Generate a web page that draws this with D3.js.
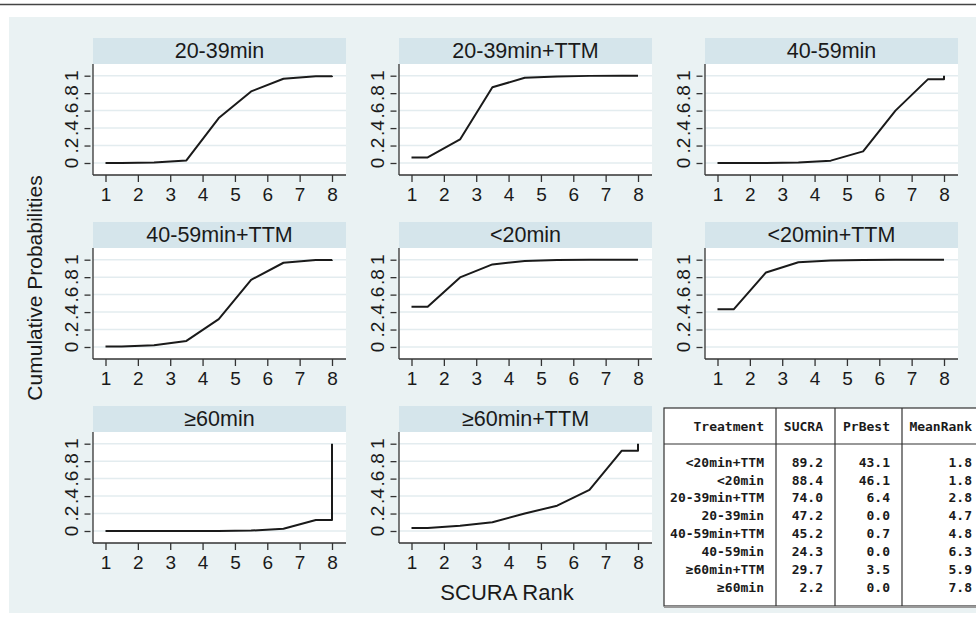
<!DOCTYPE html>
<html>
<head>
<meta charset="utf-8">
<script src="https://cdn.jsdelivr.net/npm/d3@7"></script>
<style>
  body { margin: 0; background: #fff; }
  text { font-family: "Liberation Sans", Arial, sans-serif; fill: #1a1a1a; }
  .mono { font-family: "DejaVu Sans Mono", monospace; font-weight: bold; font-size: 13px; }
</style>
</head>
<body>
<div id="chart-area"></div>
<script>
// Panels, in reading order
const panelNames = ["20-39min", "20-39min+TTM", "40-59min",
  "40-59min+TTM", "<20min", "<20min+TTM",
  "≥60min", "≥60min+TTM"]

// Cumulative probability of being within rank 1..8
const cum2039 = [0, 0.005, 0.03, 0.515, 0.82, 0.965, 0.995, 1]
const cum2039TTM = [0.064, 0.27, 0.867, 0.977, 0.99, 0.998, 1, 1]
const cum4059 = [0, 0.001, 0.005, 0.027, 0.133, 0.6, 0.958, 1]
const cum4059TTM = [0.007, 0.02, 0.07, 0.32, 0.77, 0.965, 0.997, 1]
const cumLt20 = [0.461, 0.797, 0.946, 0.985, 0.997, 1, 1, 1]
const cumLt20TTM = [0.431, 0.854, 0.97, 0.99, 0.997, 1, 1, 1]
const cumGe60 = [0, 0, 0, 0.001, 0.005, 0.025, 0.125, 1]
const cumGe60TTM = [0.035, 0.06, 0.1, 0.2, 0.29, 0.47, 0.92, 1]
const cumSeries = [cum2039, cum2039TTM, cum4059, cum4059TTM, cumLt20, cumLt20TTM, cumGe60, cumGe60TTM]

const rankTicks = [1, 2, 3, 4, 5, 6, 7, 8]
const probTicks = [0, 0.2, 0.4, 0.6, 0.8, 1]
const probTickLabels = ["0", ".2", ".4", ".6", ".8", "1"]

// Summary table
const tableHeader = ["Treatment", "SUCRA", "PrBest", "MeanRank"]
const tableTreatments = ["<20min+TTM", "<20min", "20-39min+TTM", "20-39min", "40-59min+TTM", "40-59min", "≥60min+TTM", "≥60min"]
const sucra = ["89.2", "88.4", "74.0", "47.2", "45.2", "24.3", "29.7", "2.2"]
const prBest = ["43.1", "46.1", "6.4", "0.0", "0.7", "0.0", "3.5", "0.0"]
const meanRank = ["1.8", "1.8", "2.8", "4.7", "4.8", "6.3", "5.9", "7.8"]

const W = 976, H = 625
const svg = d3.select("#chart-area").append("svg")
  .attr("width", W)
  .attr("height", H)

// frame
svg.append("line")
  .attr("x1", 0).attr("x2", W).attr("y1", 4.5).attr("y2", 4.5)
  .attr("stroke", "#444").attr("stroke-width", 1.5)
svg.append("rect")
  .attr("x", 9).attr("y", 17).attr("width", W - 9).attr("height", 596)
  .attr("fill", "#eaf2f3")

const PANEL_W = 253, HEAD_H = 26, PLOT_H = 111
const COL_STEP = 306, ROW_STEP = 184
const LEFT0 = 93, TOP0 = 38

panelNames.forEach((name, i) => {
  const col = i % 3, row = Math.floor(i / 3)
  const L = LEFT0 + col * COL_STEP
  const T = TOP0 + row * ROW_STEP
  const g = svg.append("g").attr("transform", `translate(${L}, ${T})`)

  const x = d3.scaleLinear().domain([1, 8]).range([12.5, 239])
  const y = d3.scaleLinear().domain([0, 1]).range([125, 37.7])

  // strip title
  g.append("rect")
    .attr("width", PANEL_W).attr("height", HEAD_H)
    .attr("fill", "#d5e5eb")
  g.append("text")
    .attr("x", PANEL_W / 2).attr("y", 20)
    .attr("text-anchor", "middle")
    .attr("font-size", "21.5px")
    .text(name)

  // plot region
  g.append("rect")
    .attr("y", HEAD_H).attr("width", PANEL_W).attr("height", PLOT_H)
    .attr("fill", "#fff")

  g.selectAll(".grid").data(probTicks).enter().append("line")
    .attr("class", "grid")
    .attr("x1", 0).attr("x2", PANEL_W)
    .attr("y1", d => y(d)).attr("y2", d => y(d))
    .attr("stroke", "#e3ecef").attr("stroke-width", 1.5)

  // axes lines
  g.append("line")
    .attr("x1", 0).attr("x2", 0).attr("y1", HEAD_H).attr("y2", HEAD_H + PLOT_H)
    .attr("stroke", "#333").attr("stroke-width", 1.3)
  g.append("line")
    .attr("x1", 0).attr("x2", PANEL_W).attr("y1", HEAD_H + PLOT_H).attr("y2", HEAD_H + PLOT_H)
    .attr("stroke", "#333").attr("stroke-width", 1.3)

  // x axis
  const xAxis = g.append("g")
    .attr("transform", `translate(0, ${HEAD_H + PLOT_H})`)
    .call(d3.axisBottom(x).tickValues(rankTicks).tickFormat(d3.format("d")).tickSize(7).tickPadding(6))
  xAxis.select(".domain").remove()
  xAxis.selectAll("line").attr("stroke", "#333").attr("stroke-width", 1.3)
  xAxis.selectAll("text")
    .attr("font-family", "Liberation Sans, Arial, sans-serif")
    .attr("font-size", "19px").attr("fill", "#1a1a1a")

  // y axis (rotated labels)
  const yAxis = g.append("g")
    .attr("transform", "translate(-2.5, 0)")
    .call(d3.axisLeft(y).tickValues(probTicks).tickSize(6).tickFormat(""))
  yAxis.select(".domain").remove()
  yAxis.selectAll("line").attr("stroke", "#333").attr("stroke-width", 1.3)
  g.selectAll(".ylab").data(probTicks).enter().append("text")
    .attr("class", "ylab")
    .attr("transform", (d, k) => `translate(-15.5, ${y(d)}) rotate(-90)`)
    .attr("text-anchor", "middle")
    .attr("font-size", "19px")
    .text((d, k) => probTickLabels[k])

  // curve: each rank's cumulative value placed at the half-rank step
  const c = cumSeries[i]
  const pts = [[1, c[0]], [1.5, c[0]]]
  for (let k = 1; k < 7; k++) pts.push([k + 1.5, c[k]])
  pts.push([8, c[6]], [8, c[7]])
  g.append("path")
    .datum(pts)
    .attr("fill", "none")
    .attr("stroke", "#1a1a1a")
    .attr("stroke-width", 2)
    .attr("stroke-linejoin", "round")
    .attr("d", d3.line().x(d => x(d[0])).y(d => y(d[1])))
})

// axis titles
svg.append("text")
  .attr("transform", "translate(42, 288) rotate(-90)")
  .attr("text-anchor", "middle")
  .attr("font-size", "21px")
  .text("Cumulative Probabilities")
svg.append("text")
  .attr("x", 507).attr("y", 600)
  .attr("text-anchor", "middle")
  .attr("font-size", "22px")
  .text("SCURA Rank")

// table
const tb = svg.append("g")
const colRight = [764, 823, 890, 972]
const colSep = [776, 835, 902]
tb.append("rect")
  .attr("x", 664).attr("y", 408).attr("width", 330).attr("height", 198)
  .attr("fill", "#fff").attr("stroke", "#333").attr("stroke-width", 1.2)
tb.append("line")
  .attr("x1", 664).attr("x2", W).attr("y1", 607).attr("y2", 607)
  .attr("stroke", "#999").attr("stroke-width", 2)
tb.append("line")
  .attr("x1", 664).attr("x2", W).attr("y1", 444).attr("y2", 444)
  .attr("stroke", "#333").attr("stroke-width", 1.2)
colSep.forEach(cx => {
  tb.append("line")
    .attr("x1", cx).attr("x2", cx).attr("y1", 408).attr("y2", 606)
    .attr("stroke", "#333").attr("stroke-width", 1.2)
})
tableHeader.forEach((h, j) => {
  tb.append("text").attr("class", "mono")
    .attr("x", colRight[j]).attr("y", 431)
    .attr("text-anchor", "end")
    .text(h)
})
const rowScale = d3.scaleLinear().domain([0, 7]).range([466.7, 591.7])
tableTreatments.forEach((t, r) => {
  const cells = [t, sucra[r], prBest[r], meanRank[r]]
  cells.forEach((v, j) => {
    tb.append("text").attr("class", "mono")
      .attr("x", colRight[j]).attr("y", rowScale(r))
      .attr("text-anchor", "end")
      .text(v)
  })
})
</script>
</body>
</html>
